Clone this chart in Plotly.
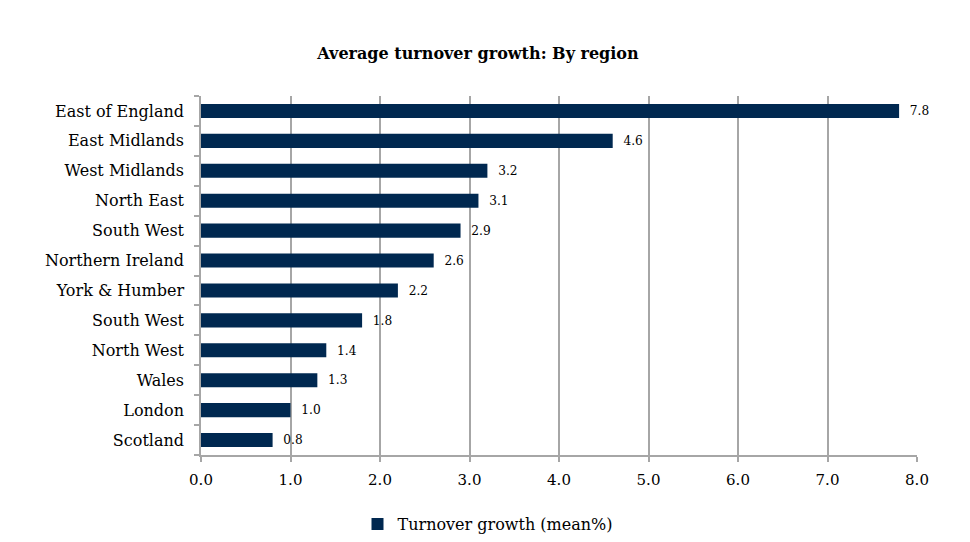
import plotly.graph_objects as go

regions = ["Scotland", "London", "Wales", "North West", "South West", "York & Humber",
           "Northern Ireland", "South West", "North East", "West Midlands", "East Midlands",
           "East of England"]
growth = [0.8, 1.0, 1.3, 1.4, 1.8, 2.2, 2.6, 2.9, 3.1, 3.2, 4.6, 7.8]
x_ticks = [0, 1, 2, 3, 4, 5, 6, 7, 8]
series_name = "Turnover growth (mean%)"

pos = list(range(len(regions)))
FONT = "DejaVu Serif"
BAR = "#002850"
GRID = "#A6A6A6"
OFF = 8  # page body offset

fig = go.Figure()
fig.add_trace(go.Bar(
    x=growth, y=pos, orientation="h", name=series_name,
    marker=dict(color=BAR, line=dict(width=0)),
    width=0.47,
    text=[f"  {v:.1f}" for v in growth], textposition="outside",
    textfont=dict(family=FONT, size=13, color="black"),
    cliponaxis=False, showlegend=True,
))

fig.update_layout(
    width=970, height=542,
    margin=dict(l=201 - OFF, r=53 + OFF, t=96 - OFF, b=87 + OFF),
    paper_bgcolor="white", plot_bgcolor="white",
    font=dict(family=FONT, size=16, color="black"),
    title=dict(text="<b>Average turnover growth: By region</b>",
               font=dict(family=FONT, size=16, color="black"),
               x=(478 - OFF) / 970, xref="container", xanchor="center",
               y=1 - (53 - OFF) / 542, yref="container", yanchor="middle"),
    showlegend=True,
    legend=dict(orientation="h", xref="container", x=(488 - OFF) / 970, xanchor="center",
                yref="container", y=1 - (524 - OFF) / 542, yanchor="middle",
                font=dict(family=FONT, size=16, color="black"),
                itemwidth=30),
    bargap=0.5,
)

fig.update_xaxes(
    range=[0, 8], tickvals=x_ticks, ticktext=[f"{v:.1f}" for v in x_ticks],
    showgrid=True, gridcolor=GRID, gridwidth=1.5,
    showline=True, linecolor=GRID, linewidth=1.5,
    ticks="outside", ticklen=5, tickcolor=GRID, tickwidth=1.5,
    ticklabelstandoff=5,
    tickfont=dict(family=FONT, size=15, color="black"),
    zeroline=False, fixedrange=True,
)
fig.update_yaxes(
    range=[-0.5, len(regions) - 0.5], tickmode="array", tickvals=pos, ticktext=regions,
    ticks="", showgrid=False, zeroline=False,
    showline=True, linecolor=GRID, linewidth=1.5,
    ticklabelstandoff=12,
    tickfont=dict(family=FONT, size=16, color="black"),
    minor=dict(tick0=-0.5, dtick=1, ticks="outside", ticklen=5, tickcolor=GRID,
               tickwidth=1.5, showgrid=False),
)

fig.write_html("out.html")
